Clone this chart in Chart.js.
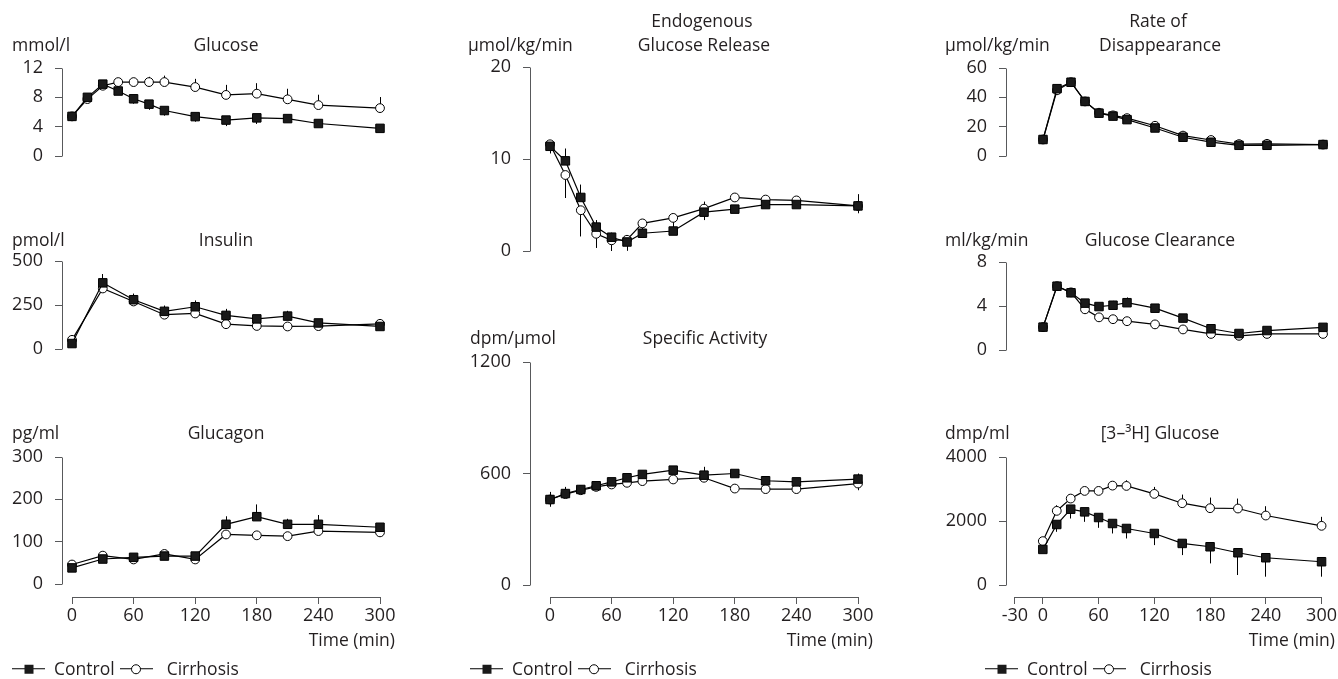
<!DOCTYPE html>
<html>
<head>
<meta charset="utf-8">
<script src="https://cdn.jsdelivr.net/npm/chart.js@4"></script>
<style>
  html, body { margin: 0; padding: 0; background: #fff; }
  body { width: 1338px; height: 679px; position: relative; overflow: hidden;
         font-family: 'Open Sans', sans-serif; color: #231f20; }
  canvas { position: absolute; left: 0; top: 0; }
  .t { position: absolute; font-size: 17.5px; line-height: 1; white-space: nowrap; }
  .c { transform: translate(-50%, -50%); }
  .l { transform: translate(0, -50%); }
  .r { transform: translate(-100%, -50%); }
  .lg { position: absolute; display: flex; align-items: center; font-size: 17.5px; line-height: 1;
        transform: translate(0, -50%); white-space: nowrap; }
  .sym { position: relative; width: 33px; height: 12px; display: inline-block; }
  .sym::before { content: ''; position: absolute; left: 0; right: 0; top: 5.3px; height: 1.4px; background: #000; }
  .sym i { position: absolute; left: 50%; top: 50%; transform: translate(-50%, -50%); box-sizing: border-box; }
  .sq { width: 9px; height: 9px; background: #1a1a1a; }
  .ci { width: 10px; height: 10px; border: 1px solid #000; border-radius: 50%; background: #fff; }
</style>
</head>
<body>
<script>
// ---------------- data ----------------
const timeFull = [0, 15, 30, 45, 60, 75, 90, 120, 150, 180, 210, 240, 300];
const timeHormone = [0, 30, 60, 90, 120, 150, 180, 210, 240, 300];
const xTicksMain = [0, 60, 120, 180, 240, 300];
const xTicksRd = [-30, 0, 60, 120, 180, 240, 300];
const seriesNames = ['Control', 'Cirrhosis'];

// Glucose (mmol/l)
const glucoseTicks = [0, 4, 8, 12];
const glucoseControl = [5.4, 8.0, 9.8, 8.86, 7.8, 7.07, 6.2, 5.37, 4.9, 5.2, 5.1, 4.43, 3.77];
const glucoseControlErr = [0.2, 0.3, 0.2, 0.3, 0.67, 0.77, 0.7, 0.69, 0.82, 0.83, 0.3, 0.3, 0.3];
const glucoseCirrhosis = [5.4, 7.76, 9.58, 10.08, 10.08, 10.08, 10.08, 9.4, 8.33, 8.5, 7.73, 6.94, 6.53];
const glucoseCirrhosisErr = [0.2, 0.3, 0.3, 0.4, 0.57, 0.72, 0.88, 1.12, 1.37, 1.43, 1.44, 1.42, 1.51];

// Insulin (pmol/l)
const insulinTicks = [0, 250, 500];
const insulinControl = [31, 376, 280, 214, 240, 191, 171, 187, 148, 128];
const insulinControlErr = [5, 50, 35, 33, 36, 37, 15, 30, 10, 5];
const insulinCirrhosis = [52, 344, 270, 195, 202, 141, 131, 128, 130, 143];
const insulinCirrhosisErr = [5, 10, 10, 10, 10, 10, 10, 10, 10, 10];

// Glucagon (pg/ml)
const glucagonTicks = [0, 100, 200, 300];
const glucagonControl = [38, 59, 63, 66, 66, 141, 159, 141, 141, 134];
const glucagonControlErr = [5, 5, 5, 5, 5, 19, 29, 13, 22, 5];
const glucagonCirrhosis = [46, 67, 58, 71, 58, 117, 115, 113, 125, 122];
const glucagonCirrhosisErr = [5, 5, 5, 5, 5, 5, 5, 5, 5, 5];

// Endogenous glucose release (µmol/kg/min)
const egrTicks = [0, 10, 20];
const egrControl = [11.38, 9.8, 5.82, 2.6, 1.5, 0.98, 1.93, 2.17, 4.22, 4.55, 5.05, 5.05, 4.9];
const egrControlErr = [0.3, 1.34, 1.4, 0.76, 0.5, 0.3, 0.3, 0.3, 1.15, 0.3, 0.3, 0.3, 1.28];
const egrCirrhosis = [11.6, 8.26, 4.43, 1.87, 1.16, 1.22, 3.0, 3.6, 4.6, 5.82, 5.59, 5.5, 4.9];
const egrCirrhosisErr = [1.0, 2.5, 2.85, 1.54, 1.16, 1.2, 0.9, 1.13, 1.24, 0.3, 0.3, 0.3, 0.8];

// Specific activity (dpm/µmol)
const saTicks = [0, 600, 1200];
const saControl = [460, 492, 514, 534, 555, 577, 595, 618, 591, 600, 561, 555, 570];
const saControlErr = [41, 36, 20, 15, 15, 15, 15, 15, 45, 15, 15, 15, 30];
const saCirrhosis = [460, 489, 510, 528, 541, 550, 559, 568, 577, 519, 516, 516, 546];
const saCirrhosisErr = [39, 15, 15, 15, 15, 15, 15, 15, 15, 20, 15, 15, 36];

// Rate of disappearance (µmol/kg/min)
const rdTicks = [0, 20, 40, 60];
const rdControl = [11.25, 45.9, 50.3, 37.2, 29.2, 27.2, 24.8, 19.1, 12.8, 9.4, 7.3, 7.3, 7.8];
const rdControlErr = [1, 1, 1, 1, 1, 1, 1, 1, 1, 1, 1, 1, 1];
const rdCirrhosis = [11.25, 44.8, 50.3, 37.2, 29.5, 27.7, 25.8, 20.6, 13.9, 10.9, 8.1, 8.3, 7.8];
const rdCirrhosisErr = [1, 1, 1, 1, 1, 1, 1, 1, 1, 1, 1, 1, 1];

// Glucose clearance (ml/kg/min)
const clTicks = [0, 4, 8];
const clControl = [2.08, 5.8, 5.2, 4.26, 3.95, 4.07, 4.3, 3.8, 2.9, 1.93, 1.5, 1.77, 2.06];
const clControlErr = [0.1, 0.1, 0.1, 0.1, 0.3, 0.4, 0.48, 0.25, 0.37, 0.1, 0.1, 0.1, 0.1];
const clCirrhosis = [2.08, 5.8, 5.24, 3.7, 2.97, 2.8, 2.62, 2.33, 1.87, 1.46, 1.29, 1.46, 1.46];
const clCirrhosisErr = [0.1, 0.1, 0.1, 0.1, 0.1, 0.1, 0.1, 0.1, 0.1, 0.1, 0.1, 0.3, 0.1];

// [3-3H] glucose (dmp/ml)
const tracerTicks = [0, 2000, 4000];
const tracerControl = [1112, 1891, 2369, 2286, 2109, 1922, 1766, 1610, 1299, 1195, 1008, 852, 727];
const tracerControlErr = [50, 229, 291, 312, 322, 312, 312, 363, 364, 520, 696, 592, 467];
const tracerCirrhosis = [1371, 2317, 2701, 2940, 2940, 3106, 3096, 2847, 2556, 2400, 2390, 2171, 1849];
const tracerCirrhosisErr = [50, 176, 100, 100, 100, 100, 177, 218, 270, 332, 311, 291, 281];

// ---------------- layout ----------------
const W = 1338, H = 679;
const TEXT = '#231f20', AXIS = '#58595b', FONT = "'Open Sans', sans-serif", FS = 18;
const COLS = {
  c1: { axisX: 62, zeroX: 72, endX: 380 },
  c2: { axisX: 530, zeroX: 550, endX: 858 },
  c3: { axisX: 1006, zeroX: 1043, endX: 1323 }
};
const X_AXIS_Y = 597;
const Y_AXIS_W = 60, X_AXIS_H = 40;

const panels = [
  { col: 'c1', topPx: 68, zeroPx: 196, yTicks: glucoseTicks, t: timeFull,
    ctrl: glucoseControl, ctrlErr: glucoseControlErr, ctrlDir: -1,
    cirr: glucoseCirrhosis, cirrErr: glucoseCirrhosisErr, cirrDir: 1, xTicks: null },
  { col: 'c1', topPx: 261, zeroPx: 389, yTicks: insulinTicks, t: timeHormone,
    ctrl: insulinControl, ctrlErr: insulinControlErr, ctrlDir: 1,
    cirr: insulinCirrhosis, cirrErr: insulinCirrhosisErr, cirrDir: -1, xTicks: null },
  { col: 'c1', topPx: 457, zeroPx: 584, yTicks: glucagonTicks, t: timeHormone,
    ctrl: glucagonControl, ctrlErr: glucagonControlErr, ctrlDir: 1,
    cirr: glucagonCirrhosis, cirrErr: glucagonCirrhosisErr, cirrDir: -1, xTicks: xTicksMain },
  { col: 'c2', topPx: 67, zeroPx: 291, yTicks: egrTicks, t: timeFull,
    ctrl: egrControl, ctrlErr: egrControlErr, ctrlDir: 1,
    cirr: egrCirrhosis, cirrErr: egrCirrhosisErr, cirrDir: -1, xTicks: null },
  { col: 'c2', topPx: 362, zeroPx: 585, yTicks: saTicks, t: timeFull,
    ctrl: saControl, ctrlErr: saControlErr, ctrlDir: 1,
    cirr: saCirrhosis, cirrErr: saCirrhosisErr, cirrDir: -1, xTicks: xTicksMain },
  { col: 'c3', topPx: 68, zeroPx: 196, yTicks: rdTicks, t: timeFull,
    ctrl: rdControl, ctrlErr: rdControlErr, ctrlDir: 1,
    cirr: rdCirrhosis, cirrErr: rdCirrhosisErr, cirrDir: -1, xTicks: null },
  { col: 'c3', topPx: 262, zeroPx: 390, yTicks: clTicks, t: timeFull,
    ctrl: clControl, ctrlErr: clControlErr, ctrlDir: 1,
    cirr: clCirrhosis, cirrErr: clCirrhosisErr, cirrDir: -1, xTicks: null },
  { col: 'c3', topPx: 457, zeroPx: 585, yTicks: tracerTicks, t: timeFull,
    ctrl: tracerControl, ctrlErr: tracerControlErr, ctrlDir: -1,
    cirr: tracerCirrhosis, cirrErr: tracerCirrhosisErr, cirrDir: 1, xTicks: xTicksRd }
];

// text labels: [text, x, y, align]
const labels = [
  ['mmol/l', 12, 45, 'l'], ['Glucose', 226, 45, 'c'],
  ['pmol/l', 12, 240, 'l'], ['Insulin', 226, 240, 'c'],
  ['pg/ml', 12, 433, 'l'], ['Glucagon', 226, 433, 'c'],
  ['Time (min)', 395, 640, 'r'],
  ['µmol/kg/min', 468, 45, 'l'], ['Endogenous', 702, 21, 'c'], ['Glucose Release', 704, 45, 'c'],
  ['dpm/µmol', 470, 338, 'l'], ['Specific Activity', 705, 338, 'c'],
  ['Time (min)', 873, 640, 'r'],
  ['µmol/kg/min', 945, 45, 'l'], ['Rate of', 1158, 21, 'c'], ['Disappearance', 1160, 45, 'c'],
  ['ml/kg/min', 945, 240, 'l'], ['Glucose Clearance', 1160, 240, 'c'],
  ['dmp/ml', 945, 433, 'l'], ['[3–³H] Glucose', 1160, 433, 'c'],
  ['Time (min)', 1335, 640, 'r']
];
const legendPos = [[12, 669], [470, 669], [985, 669]];

// ---------------- plugins ----------------
function align1(p) { return Math.round(p - 0.5) + 0.5; }

const errorBars = {
  id: 'errorBars',
  beforeDatasetsDraw(chart) {
    const { ctx } = chart;
    const x = chart.scales.x, y = chart.scales.y;
    ctx.save();
    ctx.strokeStyle = '#000';
    ctx.lineWidth = 1;
    chart.data.datasets.forEach(ds => {
      if (!ds.errValues) return;
      ds.data.forEach((p, i) => {
        const e = ds.errValues[i];
        if (!e) return;
        const px = align1(x.getPixelForValue(p.x));
        ctx.beginPath();
        ctx.moveTo(px, y.getPixelForValue(p.y));
        ctx.lineTo(px, y.getPixelForValue(p.y + ds.errDir * e));
        ctx.stroke();
      });
    });
    ctx.restore();
  }
};

const axisLines = {
  id: 'axisLines',
  afterDraw(chart, args, opts) {
    const { ctx, chartArea } = chart;
    const x = chart.scales.x, y = chart.scales.y;
    ctx.save();
    ctx.strokeStyle = AXIS;
    ctx.lineWidth = 1;
    const yt = opts.yTicks;
    const ax = align1(chartArea.left);
    ctx.beginPath();
    ctx.moveTo(ax, align1(y.getPixelForValue(yt[0])));
    ctx.lineTo(ax, align1(y.getPixelForValue(yt[yt.length - 1])));
    ctx.stroke();
    if (opts.xTicks) {
      const xt = opts.xTicks;
      const ay = align1(chartArea.bottom);
      ctx.beginPath();
      ctx.moveTo(align1(x.getPixelForValue(xt[0])), ay);
      ctx.lineTo(align1(x.getPixelForValue(xt[xt.length - 1])), ay);
      ctx.stroke();
    }
    ctx.restore();
  }
};

// ---------------- build charts ----------------
Chart.defaults.font.family = FONT;
Chart.defaults.font.size = FS;
Chart.defaults.color = TEXT;
const plainLabel = v => String(v);

panels.forEach((p, idx) => {
  const col = COLS[p.col];
  const xMax = 300;
  const pxPerMin = (col.endX - col.zeroX) / xMax;
  const xMin = -(col.zeroX - col.axisX) / pxPerMin;
  const yMax = p.yTicks[p.yTicks.length - 1];
  const pxPerUnit = (p.zeroPx - p.topPx) / yMax;
  const bottomPx = p.xTicks ? X_AXIS_Y : p.zeroPx;
  const yMin = -(bottomPx - p.zeroPx) / pxPerUnit;

  const cv = document.createElement('canvas');
  cv.width = W; cv.height = H;
  document.body.appendChild(cv);

  const mk = (vals) => p.t.map((tv, i) => ({ x: tv, y: vals[i] }));

  new Chart(cv, {
    type: 'line',
    data: {
      datasets: [
        { label: seriesNames[0], data: mk(p.ctrl), errValues: p.ctrlErr, errDir: p.ctrlDir,
          borderColor: '#000', borderWidth: 1.2, pointStyle: 'rect', pointRadius: 6,
          pointBackgroundColor: '#1a1a1a', pointBorderColor: '#000', pointBorderWidth: 1,
          tension: 0, clip: false },
        { label: seriesNames[1], data: mk(p.cirr), errValues: p.cirrErr, errDir: p.cirrDir,
          borderColor: '#000', borderWidth: 1.2, pointStyle: 'circle', pointRadius: 4.4,
          pointBackgroundColor: '#fff', pointBorderColor: '#000', pointBorderWidth: 1,
          tension: 0, clip: false }
      ]
    },
    options: {
      responsive: false,
      animation: false,
      events: [],
      layout: {
        padding: {
          left: col.axisX - Y_AXIS_W,
          right: W - col.endX,
          top: p.topPx,
          bottom: p.xTicks ? (H - X_AXIS_Y - X_AXIS_H) : (H - p.zeroPx)
        }
      },
      plugins: {
        legend: { display: false },
        tooltip: { enabled: false },
        axisLines: { yTicks: p.yTicks, xTicks: p.xTicks }
      },
      scales: {
        x: {
          type: 'linear', min: xMin, max: xMax,
          display: !!p.xTicks,
          afterBuildTicks: s => { s.ticks = (p.xTicks || xTicksMain).map(v => ({ value: v })); },
          afterFit: s => { s.height = X_AXIS_H; },
          grid: { drawOnChartArea: false, drawTicks: true, tickLength: 7, color: AXIS, lineWidth: 1 },
          border: { display: false },
          ticks: { padding: 1, color: TEXT, font: { size: FS }, maxRotation: 0, autoSkip: false, callback: plainLabel }
        },
        y: {
          type: 'linear', min: yMin, max: yMax,
          afterBuildTicks: s => { s.ticks = p.yTicks.map(v => ({ value: v })); },
          afterFit: s => { s.width = Y_AXIS_W; },
          grid: { drawOnChartArea: false, drawTicks: true, tickLength: 7, color: AXIS, lineWidth: 1 },
          border: { display: false },
          ticks: { padding: 12, color: TEXT, font: { size: FS }, callback: plainLabel }
        }
      }
    },
    plugins: [errorBars, axisLines]
  });
});

// ---------------- text ----------------
labels.forEach(([txt, x, y, a]) => {
  const d = document.createElement('div');
  d.className = 't ' + a;
  d.style.left = x + 'px';
  d.style.top = y + 'px';
  d.textContent = txt;
  document.body.appendChild(d);
});

legendPos.forEach(([x, y]) => {
  const d = document.createElement('div');
  d.className = 'lg';
  d.style.left = x + 'px';
  d.style.top = y + 'px';
  const s1 = document.createElement('span'); s1.className = 'sym'; s1.innerHTML = '<i class="sq"></i>';
  const t1 = document.createElement('span'); t1.textContent = seriesNames[0]; t1.style.margin = '0 5px 0 9px';
  const s2 = document.createElement('span'); s2.className = 'sym'; s2.innerHTML = '<i class="ci"></i>';
  const t2 = document.createElement('span'); t2.textContent = seriesNames[1]; t2.style.marginLeft = '14px';
  d.append(s1, t1, s2, t2);
  document.body.appendChild(d);
});
</script>
</body>
</html>
